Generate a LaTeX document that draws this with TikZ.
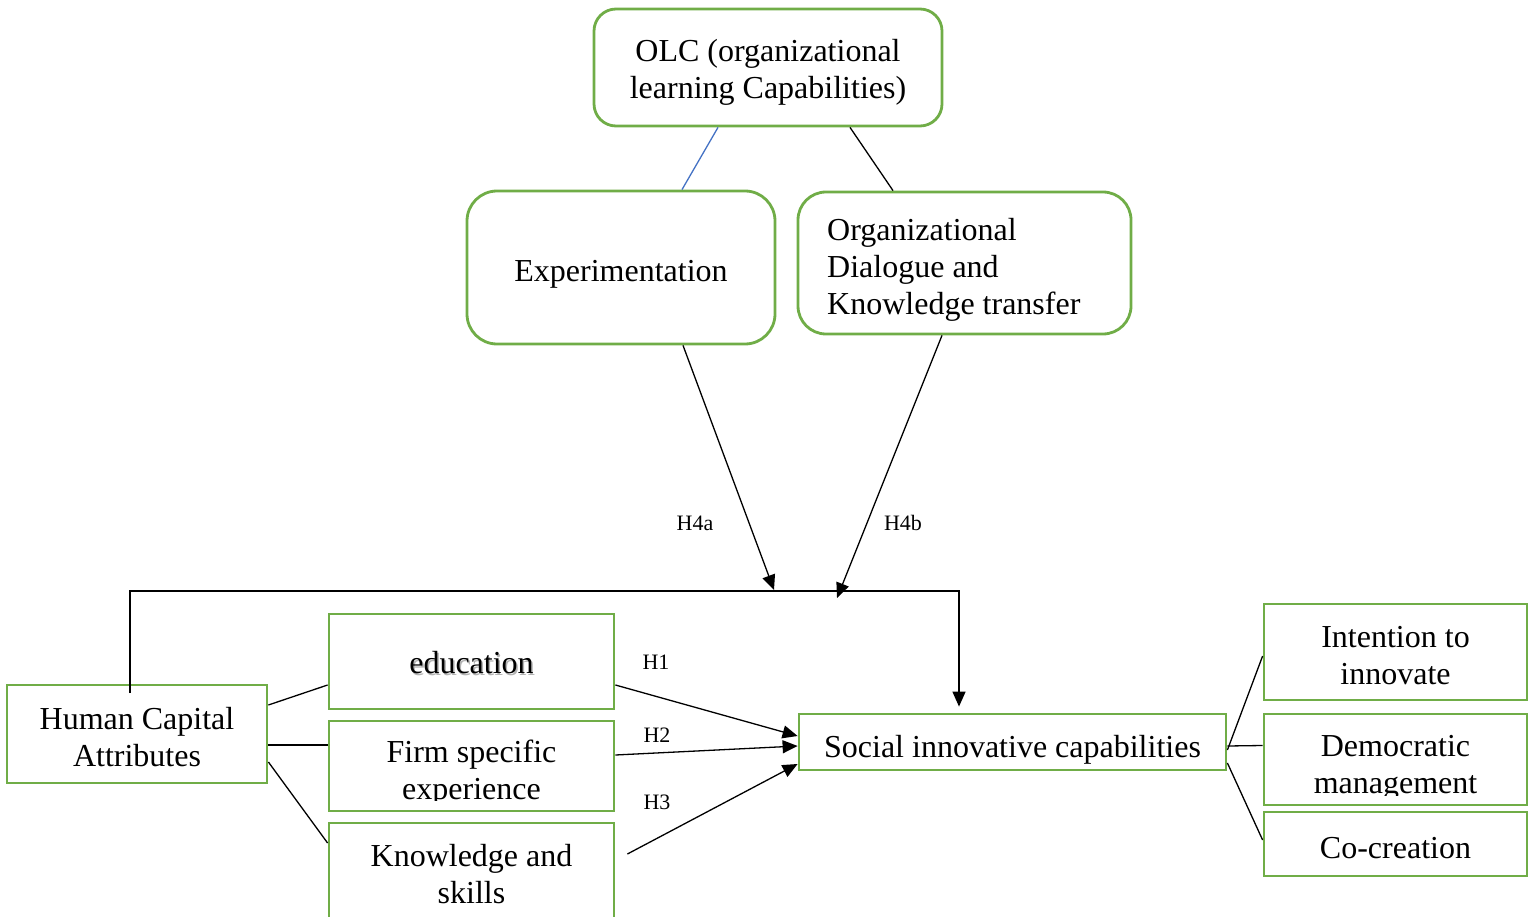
\documentclass[tikz,border=0pt]{standalone}
\usepackage{fontspec}
\setmainfont{Liberation Serif}
\usetikzlibrary{arrows.meta}
\definecolor{boxgreen}{HTML}{70AD47}
\definecolor{linkblue}{HTML}{4472C4}

\begin{document}
\begin{tikzpicture}[x=1pt,y=-1pt,
  box/.style={draw=boxgreen, line width=2.8pt, fill=white, inner sep=0pt},
  rbox/.style={box, rounded corners=#1},
  txt/.style={inner sep=0pt, align=center, font=\fontsize{32}{37}\selectfont},
  hyp/.style={inner sep=0pt, font=\fontsize{22}{26}\selectfont},
  link/.style={line width=1.3pt},
  arr/.style={link, -{Triangle[length=15pt,width=13pt]}}]

\clip (0,0) rectangle (1536,917);

% --- organizational learning capabilities ---
\node[rbox=22pt, minimum width=348pt, minimum height=117pt] (olc) at (768,67.5) {};
\node[txt] (olctext) at (768,72.5) {OLC (organizational\\learning Capabilities)};
\node[rbox=30pt, minimum width=308pt, minimum height=153pt] (exp) at (621,267.5) {};
\node[txt] (exptext) at (621,274.5) {Experimentation};
\node[rbox=28pt, minimum width=333pt, minimum height=142pt] (odk) at (964.5,263) {};
\node[txt, align=left, anchor=west] (odktext) at (827,270)
  {Organizational\\Dialogue and\\Knowledge transfer};

% --- human capital attributes ---
\node[box, minimum width=260pt, minimum height=98pt] (hca) at (137,734) {};
\node[txt] (hcatext) at (137,737) {Human Capital\\Attributes};
\node[box, minimum width=285pt, minimum height=95pt] (edu) at (471.5,661.5) {};
\node[txt, text=black!30] (edushadow) at (473,665) {education};
\node[txt] (edutext) at (471.5,663) {education};
\node[box, minimum width=285pt, minimum height=90pt] (firm) at (471.5,766) {};
\begin{scope}
  \clip (329,721) rectangle (614,800);
  \node[txt] (firmtext) at (471.5,773.5) {Firm specific\\experience};
\end{scope}
\node[box, minimum width=285pt, minimum height=112pt] (know) at (471.5,879) {};
\node[txt] (knowtext) at (471.5,874) {Knowledge and\\skills};

% --- social innovative capabilities ---
\node[box, minimum width=427pt, minimum height=56pt] (sic) at (1012.5,742) {};
\node[txt] (sictext) at (1012.5,750) {Social innovative capabilities};
\node[box, minimum width=263pt, minimum height=96pt] (int) at (1395.5,652) {};
\node[txt] (inttext) at (1395.5,656) {Intention to\\innovate};
\node[box, minimum width=263pt, minimum height=91pt] (dem) at (1395.5,759.5) {};
\begin{scope}
  \clip (1264,714) rectangle (1527,795);
  \node[txt] (demtext) at (1395.5,768) {Democratic\\management};
\end{scope}
\node[box, minimum width=263pt, minimum height=64pt] (coc) at (1395.5,844) {};
\node[txt] (coctext) at (1395.5,848) {Co-creation};

% --- links between the learning capabilities ---
\draw[link, linkblue] ([xshift=-50pt]olc.south) -- ([xshift=61pt]exp.north);
\draw[link] ([xshift=82pt]olc.south) -- ([xshift=-71.5pt]odk.north);

% --- moderating paths onto the main relation ---
\coordinate (tipA) at (774,590);
\coordinate (tipB) at (837,598);
\coordinate (busR) at (959,591);
\draw[arr] ([xshift=62pt]exp.south) -- (tipA);
\draw[arr] ([xshift=-22.5pt]odk.south) -- (tipB);
\draw[arr] ([xshift=-7pt,yshift=41pt]hca.center) |- (busR)
  -| ([xshift=-53.5pt,yshift=6pt]sic.north);

% --- attributes of human capital ---
\draw[link] ([yshift=29pt]hca.east) -- ([yshift=-23.5pt]edu.west);
\draw[link] ([yshift=-11pt]hca.east) -- ([yshift=21pt]firm.west);
\draw[link] ([yshift=-28pt]hca.east) -- ([yshift=36pt]know.west);

% --- direct hypotheses ---
\draw[arr] ([yshift=-23.5pt]edu.east) -- ([yshift=6pt]sic.west);
\draw[arr] ([yshift=11pt]firm.east) -- ([yshift=-4pt]sic.west);
\draw[arr] ([xshift=12pt,yshift=25pt]know.east) -- ([yshift=-22pt]sic.west);

% --- dimensions of social innovative capabilities ---
\draw[link] ([yshift=-8pt]sic.east) -- ([yshift=-4pt]int.west);
\draw[link] ([yshift=-4pt]sic.east) -- ([yshift=14pt]dem.west);
\draw[link] ([yshift=-21pt]sic.east) -- ([yshift=4pt]coc.west);

% --- hypothesis labels ---
\node[hyp] (h4a) at (695,523) {H4a};
\node[hyp] (h4b) at (903,523) {H4b};
\node[hyp] (h1) at (656,662) {H1};
\node[hyp] (h2) at (657,735) {H2};
\node[hyp] (h3) at (657,802) {H3};
\end{tikzpicture}
\end{document}
